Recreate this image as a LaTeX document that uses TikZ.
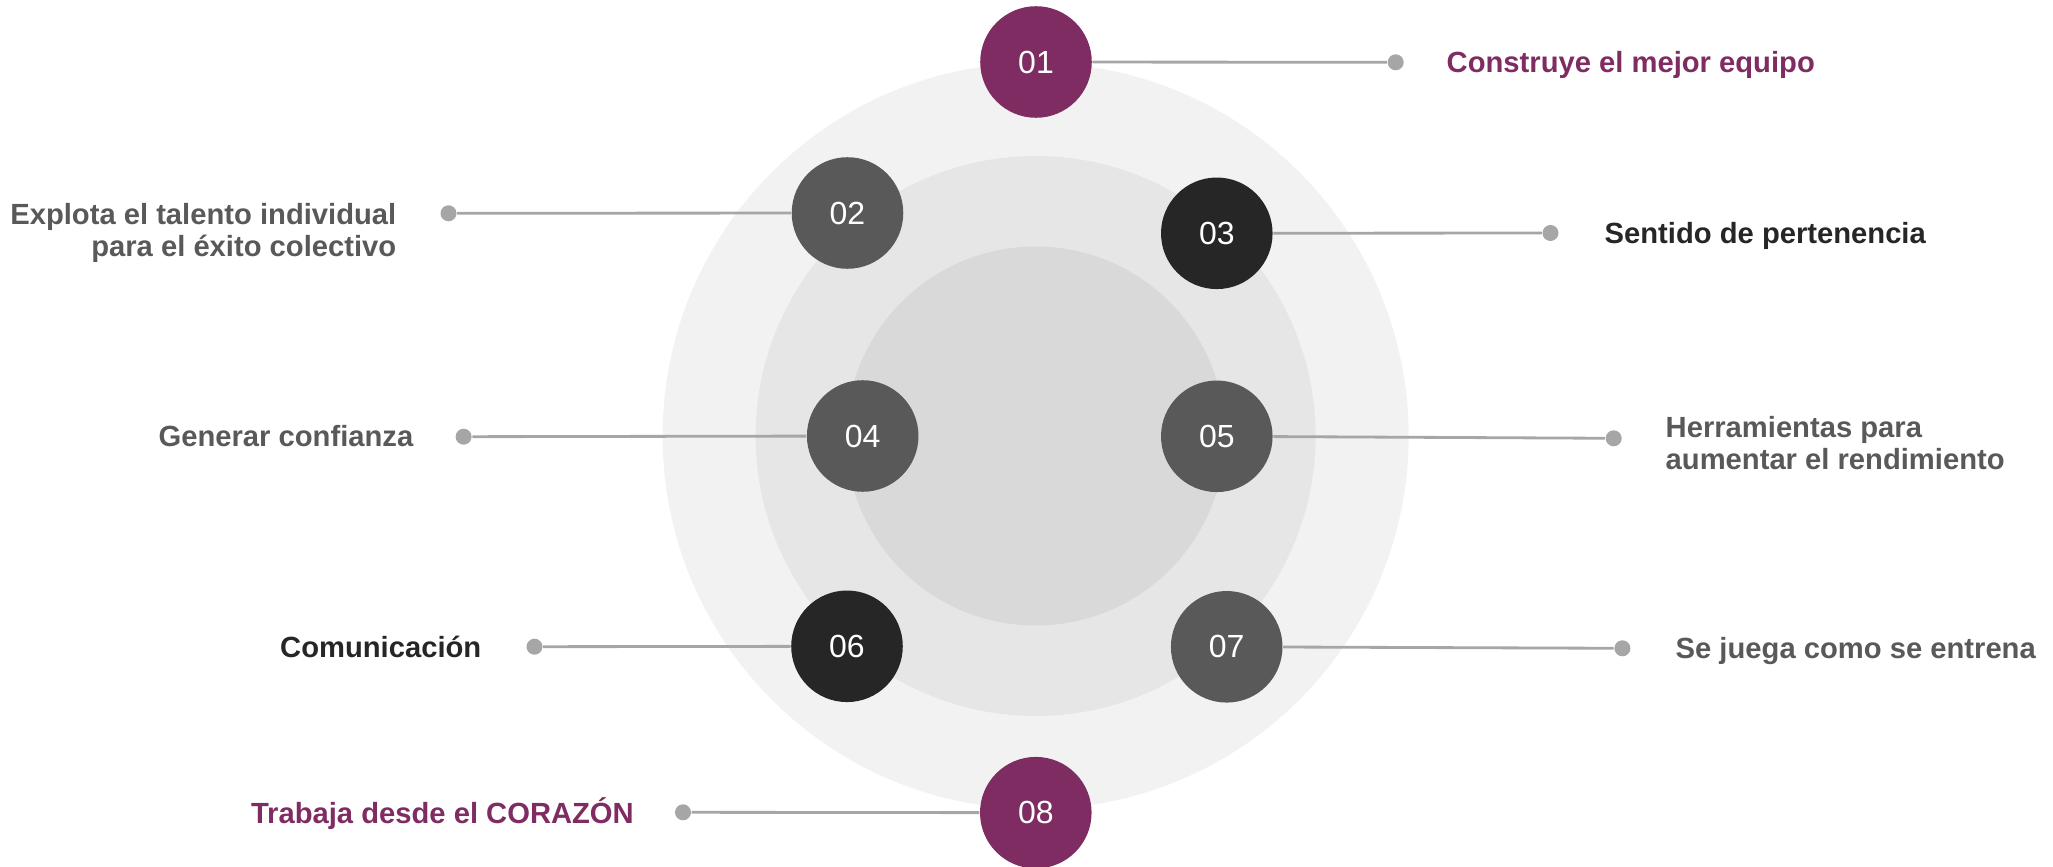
\documentclass[tikz,border=0pt]{standalone}
\usepackage{fontspec}
\setmainfont{Liberation Sans}
\usetikzlibrary{positioning}

\definecolor{heart}{HTML}{7F2C62}
\definecolor{slate}{HTML}{595959}
\definecolor{ink}{HTML}{262626}
\definecolor{wire}{HTML}{A6A6A6}
\definecolor{ringA}{HTML}{F2F2F2}
\definecolor{ringB}{HTML}{E6E6E6}
\definecolor{ringC}{HTML}{D9D9D9}

\tikzset{
  num/.style={circle, minimum size=1.115cm, inner sep=0pt, text=white,
    font=\fontsize{9.1}{10}\selectfont},
  pin/.style={circle, fill=wire, minimum size=0.16cm, inner sep=0pt},
  link/.style={draw=wire, line width=0.8pt},
  lbl/.style={inner sep=0pt, font=\bfseries\fontsize{8.3}{9.1}\selectfont}
}

\begin{document}
\begin{tikzpicture}[x=0.01cm, y=-0.01cm]

      % Definitions
      \pgfmathsetmacro{\cx}{1035.6}
      \pgfmathsetmacro{\cy}{436}
      \pgfmathsetmacro{\Ra}{373}
      \pgfmathsetmacro{\Rb}{280}
      \pgfmathsetmacro{\Rc}{189.5}

      \useasboundingbox (0,0) rectangle (2053,867);

      % rings
      \fill[ringA] (\cx,\cy) circle (\Ra);
      \fill[ringB] (\cx,\cy) circle (\Rb);
      \fill[ringC] (\cx,\cy) circle (\Rc);

      % numbered circles
      \node[num, fill=heart] (n1) at (1036,62) {01};
      \node[num, fill=slate] (n2) at (847.5,213) {02};
      \node[num, fill=ink]   (n3) at (1216.8,233.3) {03};
      \node[num, fill=slate] (n4) at (862.7,436) {04};
      \node[num, fill=slate] (n5) at (1216.8,436.3) {05};
      \node[num, fill=ink]   (n6) at (847,646.3) {06};
      \node[num, fill=slate] (n7) at (1226.7,646.8) {07};
      \node[num, fill=heart] (n8) at (1035.8,812.7) {08};

      % pins
      \node[pin] (d1) at (1395.7,62.3) {};
      \node[pin] (d2) at (448.5,213.3) {};
      \node[pin] (d3) at (1550.5,233) {};
      \node[pin] (d4) at (463.6,436.7) {};
      \node[pin] (d5) at (1613.7,438.3) {};
      \node[pin] (d6) at (534.5,646.7) {};
      \node[pin] (d7) at (1622.4,648.3) {};
      \node[pin] (d8) at (683,812.3) {};

      % links
      \draw[link] (d1) -- (n1);
      \draw[link] (d2) -- (n2);
      \draw[link] (d3) -- (n3);
      \draw[link] (d4) -- (n4);
      \draw[link] (d5) -- (n5);
      \draw[link] (d6) -- (n6);
      \draw[link] (d7) -- (n7);
      \draw[link] (d8) -- (n8);

      % labels
      \node[lbl, text=heart, anchor=base west] (t1) at (1446,72.5)
        {Construye el mejor equipo};
      \node[lbl, text=slate, anchor=east, align=right] (t2) at (397,232.6)
        {Explota el talento individual\\para el éxito colectivo};
      \node[lbl, text=ink, anchor=base west] (t3) at (1604,243.5)
        {Sentido de pertenencia};
      \node[lbl, text=slate, anchor=base east] (t4) at (414,447)
        {Generar confianza};
      \node[lbl, text=slate, anchor=west, align=left] (t5) at (1665,443)
        {Herramientas para\\aumentar el rendimiento};
      \node[lbl, text=ink, anchor=base east] (t6) at (482,657)
        {Comunicación};
      \node[lbl, text=slate, anchor=base west] (t7) at (1675,658.5)
        {Se juega como se entrena};
      \node[lbl, text=heart, anchor=base east] (t8) at (634.5,823)
        {Trabaja desde el CORAZÓN};
\end{tikzpicture}
\end{document}
